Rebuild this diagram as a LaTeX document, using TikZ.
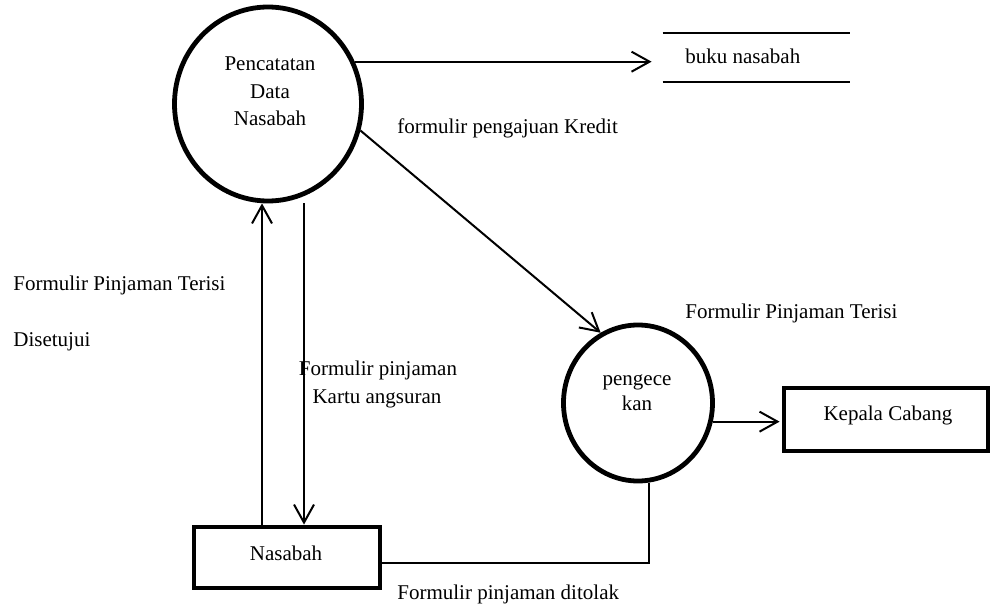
\documentclass[tikz,border=0pt]{standalone}
\usepackage{fontspec}
\setmainfont{Liberation Serif}
\usetikzlibrary{arrows.meta,shapes.geometric}
\begin{document}
\begin{tikzpicture}[x=0.5pt,y=-0.5pt,
  every node/.style={font=\fontsize{10.5}{14}\selectfont},
  proc/.style={draw,ellipse,line width=2.4pt,inner sep=0pt},
  ent/.style={draw,rectangle,line width=2.4pt,inner sep=0pt},
  txt/.style={inner sep=0pt,anchor=base west},
  flow/.style={line width=1pt},
  arr/.style={line width=1pt,-{Straight Barb[length=9pt,width=10pt]}}]
\useasboundingbox (0,0) rectangle (992,605);
% processes
\node[proc,minimum width=93.5pt,minimum height=97pt] (p1) at (268,104) {};
\node[inner sep=0pt,anchor=base] (p1a) at (270,70) {Pencatatan};
\node[inner sep=0pt,anchor=base] (p1b) at (270,98) {Data};
\node[inner sep=0pt,anchor=base] (p1c) at (270,125.5) {Nasabah};
\node[proc,minimum width=74.5pt,minimum height=78pt] (p2) at (638,403) {};
\node[inner sep=0pt,anchor=base] (p2a) at (637,385) {pengece};
\node[inner sep=0pt,anchor=base] (p2b) at (637,410) {kan};
% data store
\node[minimum width=93.5pt,minimum height=24.5pt,inner sep=0pt] (st) at (756.5,57.5) {};
\draw[flow] (st.north west) -- (st.north east);
\draw[flow] (st.south west) -- (st.south east);
\node[txt] (stt) at (685,63) {buku nasabah};
% entities
\node[ent,minimum width=102pt,minimum height=31.5pt] (kc) at (886,419.5) {};
\node[inner sep=0pt,anchor=base] (kct) at (888,420) {Kepala Cabang};
\node[ent,minimum width=93pt,minimum height=30.5pt] (nb) at (287,557.5) {};
\node[inner sep=0pt,anchor=base] (nbt) at (286,560) {Nasabah};
% flows
\draw[arr,shorten >=5.5pt] (p1.26) -- (p1.26 -| st.west);
\draw[arr] (p1.-16) -- (p2.118);
\draw[arr,shorten >=1pt] (p2.-14) -- (p2.-14 -| kc.west);
\draw[arr] ([xshift=-12.5pt]nb.north) -- ([xshift=-3pt]p1.south);
\draw[arr] ([xshift=18pt]p1.south) -- ([xshift=8.5pt]nb.north);
\draw[flow] ([yshift=-2.75pt]nb.east) -| ([xshift=5.5pt]p2.south);
% labels
\node[txt] (l1) at (397,133) {formulir pengajuan Kredit};
\node[txt] (l2) at (685,318) {Formulir Pinjaman Terisi};
\node[txt] (l3) at (13,290) {Formulir Pinjaman Terisi};
\node[txt] (l4) at (13,346) {Disetujui};
\node[inner sep=0pt,anchor=base] (l5) at (378,375) {Formulir pinjaman};
\node[inner sep=0pt,anchor=base] (l6) at (377,403) {Kartu angsuran};
\node[txt] (l7) at (397,599) {Formulir pinjaman ditolak};
\end{tikzpicture}
\end{document}
